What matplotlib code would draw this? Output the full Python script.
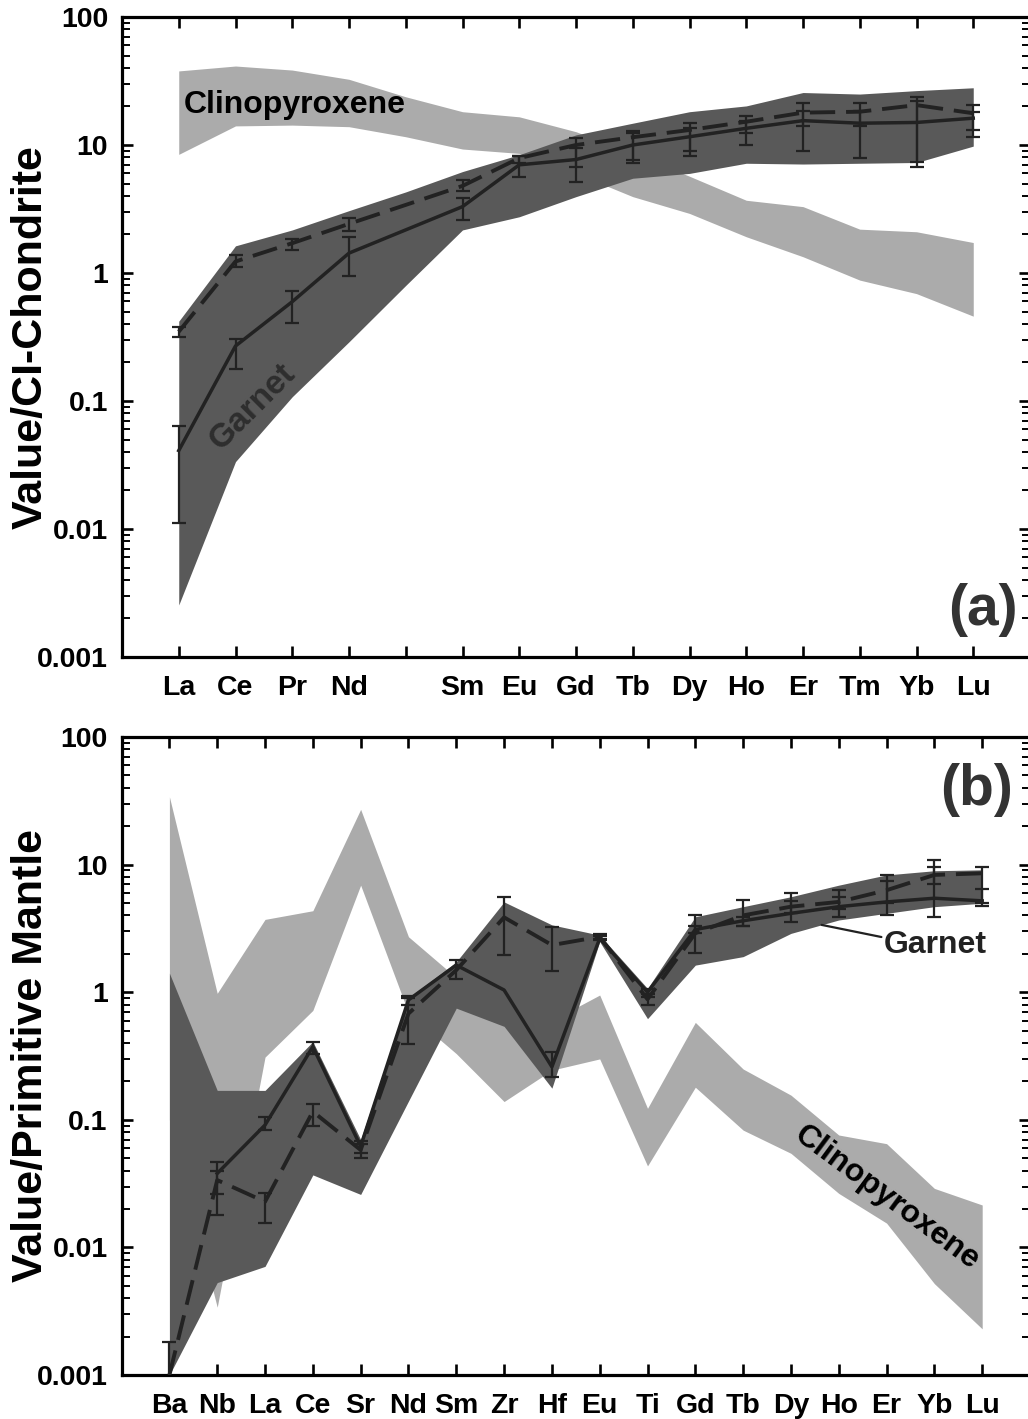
import numpy as np
import matplotlib
matplotlib.use("Agg")
import matplotlib.pyplot as plt
from matplotlib.ticker import LogLocator, NullLocator, NullFormatter

plt.rcParams["font.family"] = ["Liberation Sans", "DejaVu Sans"]
plt.rcParams["font.weight"] = "bold"

nan = np.nan

# --- (a) REE, chondrite-normalised ---
ree_labels = ["La", "Ce", "Pr", "Nd", "", "Sm", "Eu", "Gd", "Tb", "Dy", "Ho", "Er", "Tm", "Yb", "Lu"]
cpx_a_hi = [37.9, 41.4, 38.5, 32.6, 23.8, 18.2, 16.6, 12.7, 8.6, 5.7, 3.7, 3.3, 2.2, 2.1, 1.73]
cpx_a_lo = [8.45, 14.1, 14.3, 13.9, 11.6, 9.3, 8.6, 6.0, 3.95, 2.92, 1.92, 1.34, 0.88, 0.69, 0.46]
grt_a_hi = [0.42, 1.63, 2.17, 3.07, 4.3, 6.2, 8.4, 12.0, 14.8, 18.2, 20.2, 25.7, 25.0, 26.6, 28.0]
grt_a_lo = [0.00255, 0.0336, 0.108, 0.29, 0.8, 2.17, 2.75, 3.95, 5.5, 6.0, 7.2, 7.1, 7.2, 7.3, 9.8]
solid_a = [0.041, 0.269, 0.597, 1.43, nan, 3.3, 7.0, 7.7, 10.0, 11.6, 13.5, 15.5, 14.8, 15.0, 16.2]
solid_a_lo = [0.0112, 0.177, 0.405, 0.95, nan, 2.6, 5.6, 5.1, 7.2, 8.2, 10.0, 9.0, 7.9, 6.7, 11.6]
solid_a_hi = [0.064, 0.303, 0.72, 1.9, nan, 3.84, 8.2, 9.5, 12.3, 13.5, 15.5, 18.5, 18.5, 22.0, 18.2]
dash_a = [0.348, 1.23, 1.71, 2.42, nan, 4.79, 7.9, 10.0, 11.5, 13.1, 15.2, 17.9, 18.2, 20.5, 17.7]
dash_a_lo = [0.318, 1.12, 1.51, 2.14, nan, 4.4, 7.2, 6.7, 7.6, 9.0, 12.5, 14.0, 14.0, 7.3, 13.1]
dash_a_hi = [0.377, 1.38, 1.85, 2.67, nan, 5.33, 8.2, 11.3, 12.9, 14.8, 16.9, 21.2, 21.2, 23.6, 20.5]

# --- (b) spider diagram, primitive-mantle-normalised ---
spi_labels = ["Ba", "Nb", "La", "Ce", "Sr", "Nd", "Sm", "Zr", "Hf", "Eu", "Ti", "Gd", "Tb", "Dy", "Ho", "Er", "Yb", "Lu"]
cpx_b_hi = [34, 0.98, 3.72, 4.35, 27.1, 2.72, 1.3, 0.8, 0.6, 0.95, 0.123, 0.58, 0.25, 0.156, 0.076, 0.065, 0.029, 0.0215]
cpx_b_lo = [0.1, 0.0034, 0.31, 0.72, 6.9, 0.69, 0.33, 0.139, 0.245, 0.30, 0.0435, 0.18, 0.083, 0.0546, 0.0265, 0.0155, 0.0052, 0.0023]
grt_b_hi = [1.41, 0.17, 0.17, 0.41, 0.07, 0.9, 1.73, 5.1, 3.37, 2.8, 1.07, 3.9, 4.68, 5.6, 6.9, 8.3, 8.95, 9.1]
grt_b_lo = [0.001, 0.0053, 0.0071, 0.037, 0.026, 0.14, 0.75, 0.54, 0.177, 2.49, 0.62, 1.63, 1.9, 2.89, 3.68, 4.15, 4.68, 4.98]
solid_b = [nan, 0.038, 0.091, 0.374, 0.062, 0.87, 1.63, 1.04, 0.26, 2.64, 1.0, 3.1, 3.63, 4.15, 4.68, 5.1, 5.45, 5.2]
solid_b_lo = [nan, 0.026, 0.083, 0.33, 0.055, 0.80, 1.28, nan, 0.215, 2.55, 0.92, 2.9, 3.3, 3.57, 3.9, 4.0, 3.9, 4.75]
solid_b_hi = [nan, 0.047, 0.106, 0.41, 0.068, 0.93, 1.79, nan, 0.342, 2.75, 1.05, 3.3, 3.9, 6.0, 6.3, 8.3, 10.9, 6.4]
dash_b = [0.001, 0.0337, 0.0228, 0.116, 0.058, 0.68, 1.49, 3.86, 2.34, 2.72, 0.88, 2.9, 4.0, 4.68, 5.1, 6.3, 8.3, 8.55]
dash_b_lo = [0.0008, 0.018, 0.0155, 0.089, 0.05, 0.39, nan, 1.96, 1.47, 2.6, 0.8, 2.04, 3.3, 4.2, 4.5, 5.0, 7.0, 5.0]
dash_b_hi = [0.0018, 0.040, 0.0266, 0.133, 0.065, 0.9, nan, 5.55, 3.26, 2.85, 0.96, 4.0, 5.3, 5.2, 5.6, 7.5, 9.5, 9.5]

ytick_vals = [0.001, 0.01, 0.1, 1, 10, 100]
ytick_labels = ["0.001", "0.01", "0.1", "1", "10", "100"]

LIGHT = "#ababab"
DARK = "#595959"
INK = "#222222"


def style_axes(ax, xmax, labels, ylabel):
    ax.set_yscale("log")
    ax.set_xlim(0, xmax)
    ax.set_ylim(0.001, 100)
    ax.set_xticks(np.arange(1, len(labels) + 1))
    ax.set_xticklabels(labels)
    ax.xaxis.set_minor_locator(NullLocator())
    ax.set_yticks(ytick_vals)
    ax.set_yticklabels(ytick_labels)
    ax.yaxis.set_minor_locator(LogLocator(base=10, subs=np.arange(2, 10), numticks=20))
    ax.yaxis.set_minor_formatter(NullFormatter())
    ax.tick_params(which="both", direction="in", top=True, right=True)
    ax.tick_params(which="major", length=8, width=1.9, labelsize=20.5)
    ax.tick_params(which="minor", length=5.5, width=1.4)
    ax.tick_params(axis="x", pad=13)
    ax.tick_params(axis="y", pad=10)
    for s in ax.spines.values():
        s.set_linewidth(2.3)
    ax.set_ylabel(ylabel, fontsize=31, fontweight="bold")
    ax.yaxis.set_label_coords(-0.078, 0.5)


def draw_series(ax, pos, mean, lo, hi, dashed):
    mean, lo, hi = np.array(mean), np.array(lo), np.array(hi)
    m = ~np.isnan(mean)
    if dashed:
        ax.plot(pos[m], mean[m], color=INK, lw=2.8, dashes=(6.5, 2.8), zorder=4)
    else:
        ax.plot(pos[m], mean[m], color=INK, lw=2.5, zorder=4)
    e = ~np.isnan(lo) & m
    ax.errorbar(pos[e], mean[e], yerr=[mean[e] - lo[e], hi[e] - mean[e]], fmt="none",
                ecolor=INK, elinewidth=1.6, capsize=5, capthick=1.6, zorder=4)


fig = plt.figure(figsize=(10.28, 14.19), dpi=100)

# panel (a)
ax = fig.add_axes([122 / 1028, 1 - 657 / 1419, 908 / 1028, 640 / 1419])
pos = np.arange(1, len(ree_labels) + 1)
ax.fill_between(pos, cpx_a_lo, cpx_a_hi, color=LIGHT, lw=0, zorder=1)
ax.fill_between(pos, grt_a_lo, grt_a_hi, color=DARK, lw=0, zorder=2)
draw_series(ax, pos, solid_a, solid_a_lo, solid_a_hi, False)
draw_series(ax, pos, dash_a, dash_a_lo, dash_a_hi, True)
style_axes(ax, 16, ree_labels, "Value/CI-Chondrite")
ax.text(1.08, 20.5, "Clinopyroxene", fontsize=23, ha="left", va="center", color="black", zorder=5)
ax.text(2.31, 0.09, "Garnet", fontsize=24, rotation=45, rotation_mode="anchor",
        ha="center", va="center", color="#2e2e2e", zorder=5)
ax.text(0.986, 0.073, "(a)", transform=ax.transAxes, fontsize=41, ha="right", va="center",
        color="#333333")

# panel (b)
ax = fig.add_axes([121.6 / 1028, 1 - 1375 / 1419, 908.4 / 1028, 638 / 1419])
pos = np.arange(1, len(spi_labels) + 1)
ax.fill_between(pos, cpx_b_lo, cpx_b_hi, color=LIGHT, lw=0, zorder=1)
ax.fill_between(pos, grt_b_lo, grt_b_hi, color=DARK, lw=0, zorder=2)
draw_series(ax, pos, solid_b, solid_b_lo, solid_b_hi, False)
draw_series(ax, pos, dash_b, dash_b_lo, dash_b_hi, True)
style_axes(ax, 19, spi_labels, "Value/Primitive Mantle")
ax.annotate("Garnet", xy=(14.64, 3.37), xytext=(15.95, 2.34), fontsize=23,
            ha="left", va="center", color="#222222", zorder=5,
            arrowprops=dict(arrowstyle="-", color=INK, lw=1.6, shrinkA=0, shrinkB=0,
                            relpos=(0.0, 0.75)))
ax.text(16.0, 0.0244, "Clinopyroxene", fontsize=23, rotation=-36.5, rotation_mode="anchor",
        ha="center", va="center", color="black", zorder=5)
ax.text(0.981, 0.917, "(b)", transform=ax.transAxes, fontsize=41, ha="right", va="center",
        color="#333333")

fig.savefig("out.png", dpi=100)
